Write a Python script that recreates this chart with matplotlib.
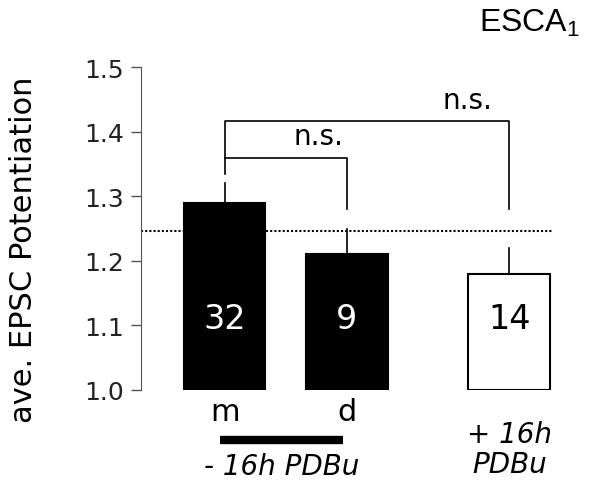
import numpy as np
import matplotlib
matplotlib.use("Agg")
import matplotlib.pyplot as plt

plt.rcParams['font.family'] = ['DejaVu Sans']
plt.rcParams['mathtext.fontset'] = 'custom'
plt.rcParams['mathtext.rm'] = 'Liberation Sans'
plt.rcParams['mathtext.default'] = 'regular'

# data
groups = ['m', 'd', '+']
xpos = [0.0, 1.0, 2.33]
means = [1.29, 1.21, 1.18]
err_top = [1.32, 1.25, 1.22]
n_cells = ['32', '9', '14']
bar_colors = ['black', 'black', 'white']
num_colors = ['white', 'white', 'black']
baseline = 1.246
yticks = [1.0, 1.1, 1.2, 1.3, 1.4, 1.5]


def main():
    fig = plt.figure(figsize=(5.92, 4.85), dpi=100)
    ax = fig.add_axes([141 / 592, 94 / 485, 411 / 592, 323 / 485])

    ax.bar(xpos, [m - 1.0 for m in means], bottom=1.0, width=0.67,
           color=bar_colors, edgecolor='black', linewidth=1.5)
    for x, m, e in zip(xpos, means, err_top):
        ax.plot([x, x], [m, e], color='black', lw=1.2)

    for x, n, c in zip(xpos, n_cells, num_colors):
        ax.text(x, 1.11, n, ha='center', va='center', fontsize=24, color=c)

    # reference dotted line
    ax.plot([-0.684, 2.68], [baseline, baseline], color='black',
            lw=1.5, ls=(0, (1, 1)), clip_on=False)

    # significance brackets
    ax.plot([xpos[0], xpos[0], xpos[2], xpos[2]], [1.334, 1.416, 1.416, 1.28],
            color='black', lw=1.2)
    ax.plot([xpos[0], xpos[1], xpos[1]], [1.359, 1.359, 1.28],
            color='black', lw=1.2)
    ax.text(0.77, 1.371, 'n.s.', ha='center', va='bottom', fontsize=20)
    ax.text(1.99, 1.428, 'n.s.', ha='center', va='bottom', fontsize=20)

    # x labels
    ax.text(xpos[0], 0.966, 'm', ha='center', va='center', fontsize=22, clip_on=False)
    ax.text(xpos[1], 0.966, 'd', ha='center', va='center', fontsize=22, clip_on=False)
    ax.plot([-0.04, 0.97], [0.923, 0.923], color='black', lw=6,
            solid_capstyle='butt', clip_on=False)
    ax.text(0.47, 0.882, '- 16h PDBu', ha='center', va='center', fontsize=20,
            style='italic', clip_on=False)
    ax.text(xpos[2], 0.932, '+ 16h', ha='center', va='center', fontsize=20,
            style='italic', clip_on=False)
    ax.text(xpos[2], 0.885, 'PDBu', ha='center', va='center', fontsize=20,
            style='italic', clip_on=False)

    ax.set_xlim(-0.684, 2.68)
    ax.set_ylim(1.0, 1.5)
    ax.set_yticks(yticks)
    ax.set_yticklabels(['%.1f' % t for t in yticks], fontsize=18, color='#222222')
    ax.set_xticks([])
    for s in ['top', 'right', 'bottom']:
        ax.spines[s].set_visible(False)
    ax.spines['left'].set_color('#555555')
    ax.tick_params(axis='y', direction='out', length=7, width=1, color='#555555', pad=5)
    ax.set_ylabel('ave. EPSC Potentiation', fontsize=22)
    ax.yaxis.set_label_coords(-0.25, 0.437)

    fig.text(0.895, 0.952, 'ESCA$_1$', ha='center', va='center', fontsize=23,
             family='Liberation Sans')

    fig.savefig('out.png', dpi=100)


if __name__ == "__main__":
    main()
